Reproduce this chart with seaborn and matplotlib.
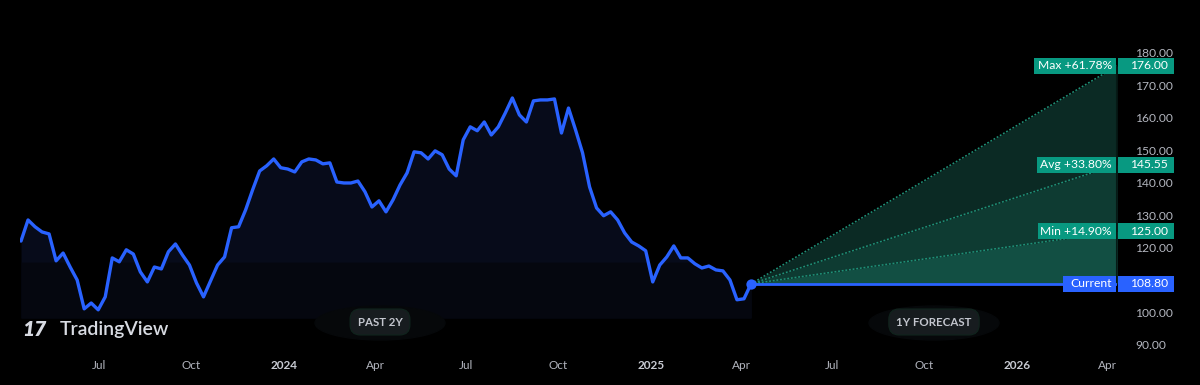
import matplotlib
matplotlib.use("Agg")
import matplotlib.pyplot as plt
import seaborn as sns
import pandas as pd
from matplotlib.patches import Rectangle, Ellipse
from matplotlib.transforms import blended_transform_factory

# ---------------- data ----------------
start_date = "2023-04-14"          # weekly closes (Fridays)
prices = [
    122.0, 128.5, 126.4, 124.8, 124.2, 115.9, 118.3, 114.0, 110.0, 101.1,
    102.9, 100.8, 104.8, 116.8, 115.6, 119.3, 118.0, 112.5, 109.4, 114.0,
    113.4, 118.7, 121.1, 117.7, 114.6, 109.1, 104.8, 109.7, 114.6, 117.1,
    126.1, 126.4, 131.6, 137.8, 143.6, 145.2, 147.3, 144.6, 144.2, 143.3,
    146.4, 147.3, 147.0, 145.8, 146.1, 140.2, 139.9, 139.9, 140.5, 137.2,
    132.5, 134.4, 131.0, 134.7, 139.3, 143.0, 149.5, 149.2, 147.3, 149.8,
    148.6, 144.2, 142.1, 153.2, 157.2, 156.0, 158.7, 154.7, 157.2, 161.5,
    166.1, 160.9, 158.7, 165.2, 165.5, 165.5, 165.8, 155.3, 163.0, 156.3,
    149.2, 138.7, 132.2, 129.8, 131.0, 128.5, 124.5, 121.7, 120.5, 119.0,
    109.4, 114.6, 117.1, 120.5, 116.8, 116.8, 115.0, 113.7, 114.3, 113.1,
    112.8, 110.0, 103.9, 104.2, 108.8,
]
current_price = 108.80
forecast_end = "2026-04-11"
forecast_names = ["Max", "Avg", "Min"]
forecast_values = [176.00, 145.55, 125.00]
forecast_pcts = ["+61.78%", "+33.80%", "+14.90%"]

x_tick_dates = ["2023-07-01", "2023-10-01", "2024-01-01", "2024-04-01", "2024-07-01",
                "2024-10-01", "2025-01-01", "2025-04-01", "2025-07-01", "2025-10-01",
                "2026-01-01", "2026-04-01"]
x_tick_labels = ["Jul", "Oct", "2024", "Apr", "Jul", "Oct", "2025", "Apr", "Jul", "Oct", "2026", "Apr"]
y_ticks = [90, 100, 120, 130, 140, 150, 160, 170, 180]

# ---------------- style ----------------
sns.set_theme(style="dark")
plt.rcParams["font.family"] = ["Lato", "DejaVu Sans"]

BLUE = "#2962ff"
TEAL = "#089981"
GREY = "#b2b5be"

fig = plt.figure(figsize=(12, 3.85), dpi=100, facecolor="black")
ax = fig.add_axes([20 / 1200, 1 - 352 / 385, 1097 / 1200, 352 / 385])
ax.set_facecolor("black")

df = pd.DataFrame({
    "date": pd.date_range(start_date, periods=len(prices), freq="7D"),
    "price": prices,
})
d0 = df["date"].iloc[-1]
d1 = pd.Timestamp(forecast_end)

# area under the past line
ax.fill_between(df["date"], df["price"], 98.3, color="#070b1a", zorder=1, lw=0)
ax.fill_between(df["date"], [min(p, 115.5) for p in prices], 98.3, color="#05070f", zorder=1, lw=0)

sns.lineplot(data=df, x="date", y="price", color=BLUE, lw=2.4, ax=ax, zorder=5)

# forecast cone
fmax, favg, fmin = forecast_values
ax.fill_between([d0, d1], [current_price, favg], [current_price, fmax], color="#0b2a24", lw=0, zorder=2)
ax.fill_between([d0, d1], [current_price, fmin], [current_price, favg], color="#0e3b32", lw=0, zorder=2)
ax.fill_between([d0, d1], [current_price, current_price], [current_price, fmin], color="#124f43", lw=0, zorder=2)
for v in forecast_values:
    ax.plot([d0, d1], [current_price, v], ls=(0, (1.2, 1.2)), color="#1f9178", lw=1.1, zorder=3)
ax.plot([d0, d1], [current_price, current_price], color=BLUE, lw=2.0, zorder=4)
ax.scatter([d0], [current_price], s=55, color=BLUE, zorder=6, lw=0)

ax.set_xlim(pd.Timestamp("2023-04-13"), d1)
ax.set_ylim(87.8, 196.3)
for s in ax.spines.values():
    s.set_visible(False)
ax.plot([d1, d1], [current_price, fmax], color="#071a16", lw=1.5, zorder=3)

ax.set_xticks(pd.to_datetime(x_tick_dates))
ax.set_xticklabels(x_tick_labels)
ax.tick_params(axis="x", length=0, pad=6, labelsize=8.5, labelcolor=GREY)
for lbl in ax.get_xticklabels():
    if lbl.get_text().isdigit():
        lbl.set_fontweight("bold")
        lbl.set_color("#c8cbd3")

ax.yaxis.tick_right()
ax.set_yticks(y_ticks)
ax.set_yticklabels([f"{v:.2f}" for v in y_ticks])
ax.tick_params(axis="y", length=0, pad=13, labelsize=8.7, labelcolor=GREY)
ax.set_xlabel("")
ax.set_ylabel("")
ax.grid(False)

# price labels on the right
tr = blended_transform_factory(ax.transAxes, ax.transData)
px = 1 / 1097.0
h = 16 / 3.244
def label(y, left_px, text, value, color):
    ax.add_patch(Rectangle((1 - left_px * px, y - h / 2), left_px * px - 1 * px, h, transform=tr,
                           color=color, clip_on=False, zorder=8, lw=0))
    ax.add_patch(Rectangle((1 + 1 * px, y - h / 2), 56 * px, h, transform=tr,
                           color=color, clip_on=False, zorder=8, lw=0))
    ax.text(1 - 5 * px, y, text, transform=tr, ha="right", va="center", color="white",
            fontsize=8.7, zorder=9, clip_on=False)
    ax.text(1 + 13 * px, y, value, transform=tr, ha="left", va="center", color="white",
            fontsize=8.7, zorder=9, clip_on=False)

lefts = [83, 80, 79]
for name, v, pct, lp in zip(forecast_names, forecast_values, forecast_pcts, lefts):
    label(v, lp, f"{name} {pct}", f"{v:.2f}", TEAL)
label(current_price, 54, "Current", f"{current_price:.2f}", BLUE)

# pills
for cx, txt in [(380, "PAST 2Y"), (934, "1Y FORECAST")]:
    fig.patches.append(Ellipse((cx / 1200, 1 - 323 / 385), 130 / 1200, 34 / 385,
                               transform=fig.transFigure, color="#06080a", zorder=0))
    fig.text(cx / 1200, 1 - 322 / 385, txt, ha="center", va="center", fontsize=8.3,
             fontweight="bold", color="#c3c6ce", zorder=10,
             bbox=dict(boxstyle="round,pad=0.65,rounding_size=0.9", fc="#171c1f", ec="#10241d", lw=0.8))

# watermark
fig.text(22 / 1200, 1 - 329 / 385, "17", fontsize=15, fontweight="heavy", color="#d8dbe2",
         va="center", ha="left", fontstyle="italic")
fig.text(60 / 1200, 1 - 329 / 385, "TradingView", fontsize=14, color="#d8dbe2",
         va="center", ha="left", fontweight="semibold")

fig.savefig("out.png", dpi=100, facecolor="black")
